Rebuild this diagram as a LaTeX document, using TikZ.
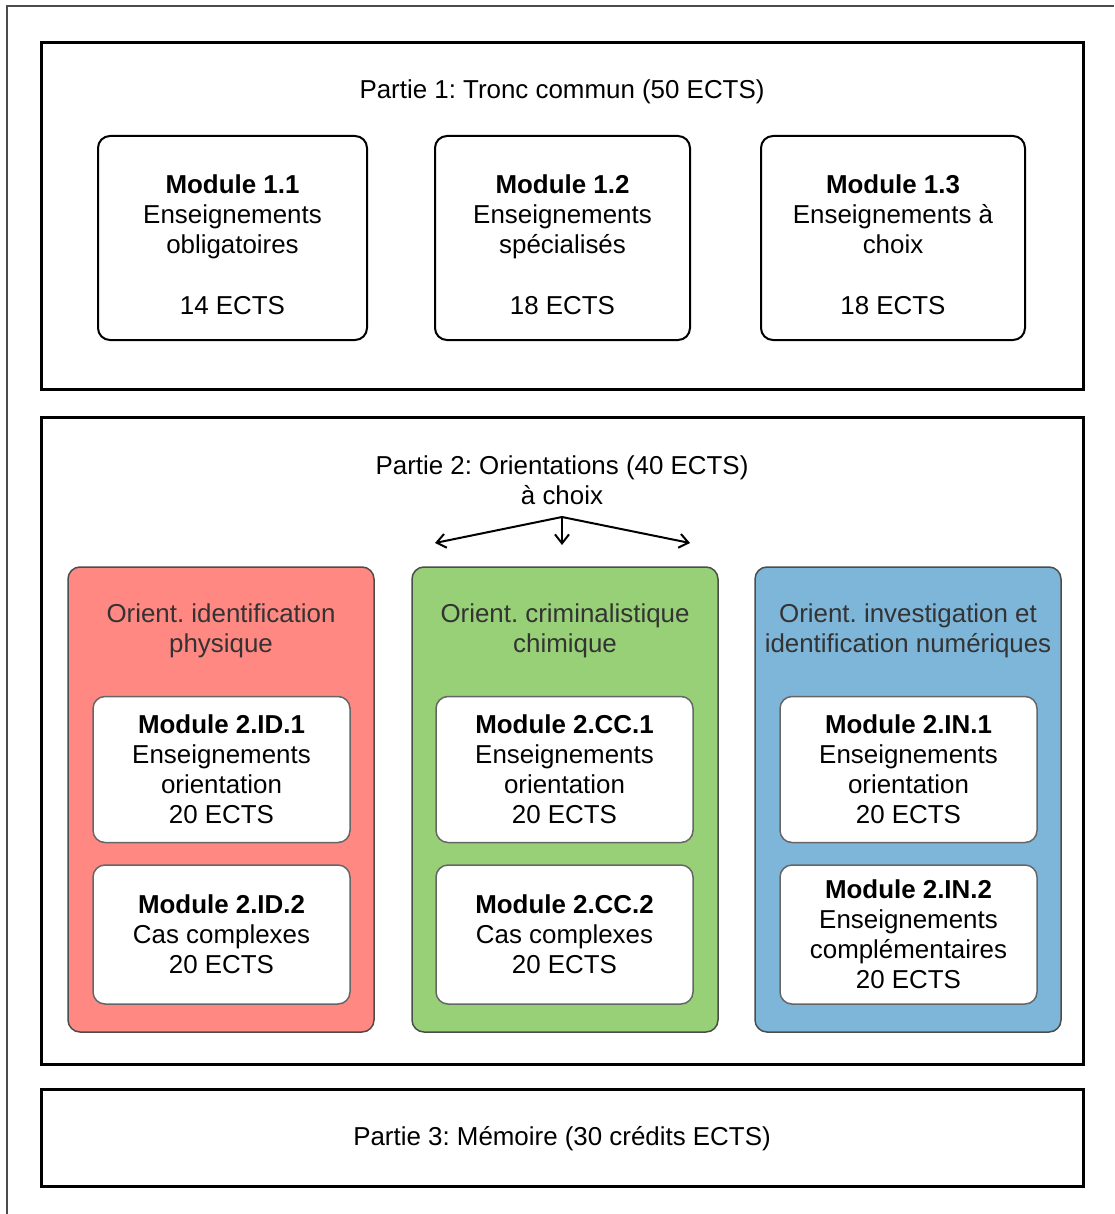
\documentclass[tikz,border=0pt]{standalone}
\usepackage{fontspec}
\setmainfont{Liberation Sans}
\frenchspacing
\usetikzlibrary{arrows.meta}
\definecolor{orientred}{HTML}{FF8882}
\definecolor{orientgreen}{HTML}{97D077}
\definecolor{orientblue}{HTML}{7EB6D9}

\begin{document}
\begin{tikzpicture}
	[x=1pt,y=-1pt,every node/.style={inner sep=0pt,align=center,
		font=\fontsize{25.9}{30}\selectfont},
	partbox/.style={draw,line width=3pt,minimum width=1042pt},
	modbox/.style={draw,line width=2pt,rounded corners=12pt,minimum height=204pt},
	orientbox/.style={draw=black!70,line width=1.5pt,rounded corners=12pt,
		minimum width=306pt,minimum height=465pt},
	innerbox/.style={draw=black!60,fill=white,line width=1.5pt,rounded corners=12pt,
		minimum width=257pt},
	choice/.style={line width=2pt,-{Straight Barb[length=9pt,width=14pt]}}]
	\useasboundingbox (0,0) rectangle (1114,1214);
	\draw[line width=2pt,black!70] (1114,6) -- (7,6) -- (7,1214);
	
	% Partie 1
	\node[partbox,minimum height=346pt] (p1) at (562,216) {};
	\node (p1title) at (562,91.5) {Partie 1: Tronc commun (50 ECTS)};
	\foreach \name/\cx/\w/\label/\txt/\ects in
		{m11/232.5/269/Module 1.1/Enseignements\\obligatoires/14,
		 m12/562.5/255/Module 1.2/Enseignements\\spécialisés/18,
		 m13/893/264/Module 1.3/Enseignements à\\choix/18}
	{
		\node[modbox,minimum width=\w pt] (\name) at (\cx,238) {};
		\node (\name text) at (\cx,245) {\textbf{\label}\\\txt\\[31pt]\ects{} ECTS};
	}
	
	% Partie 2
	\node[partbox,minimum height=647pt] (p2) at (562,740.5) {};
	\node (p2title) at (562,480.5) {Partie 2: Orientations (40 ECTS)\\à choix};
	\coordinate (fork) at (562,517);
	\coordinate (toID) at (435,543);
	\coordinate (toCC) at (562,545);
	\coordinate (toIN) at (690,543);
	\foreach \endNode in {toID,toCC,toIN}
		\draw[choice] (fork) -- (\endNode);
	
	\node[orientbox,fill=orientred] (oID) at (221,799.5) {};
	\node[orientbox,fill=orientgreen] (oCC) at (565,799.5) {};
	\node[orientbox,fill=orientblue] (oIN) at (908,799.5) {};
	\node[text=black!80] (oIDtitle) at (221,630.5) {Orient. identification\\physique};
	\node[text=black!80] (oCCtitle) at (565,630.5) {Orient. criminalistique\\chimique};
	\node[text=black!80] (oINtitle) at (908,630.5) {Orient. investigation et\\identification numériques};
	
	\foreach \name/\cx in {ID/221.5,CC/564.5,IN/908.5}
	{
		\node[innerbox,minimum height=146pt] (m\name1) at (\cx,769.5)
			{\textbf{Module 2.\name.1}\\Enseignements\\orientation\\20 ECTS};
	}
	\node[innerbox,minimum height=139pt] (mID2) at (221.5,934.5)
		{\textbf{Module 2.ID.2}\\Cas complexes\\20 ECTS};
	\node[innerbox,minimum height=139pt] (mCC2) at (564.5,934.5)
		{\textbf{Module 2.CC.2}\\Cas complexes\\20 ECTS};
	\node[innerbox,minimum height=139pt] (mIN2) at (908.5,934.5)
		{\textbf{Module 2.IN.2}\\Enseignements\\complémentaires\\20 ECTS};
	
	% Partie 3
	\node[partbox,minimum height=97pt] (p3) at (562,1137.5) {};
	\node (p3title) at (562,1138.5) {Partie 3: Mémoire (30 crédits ECTS)};
\end{tikzpicture}
\end{document}
